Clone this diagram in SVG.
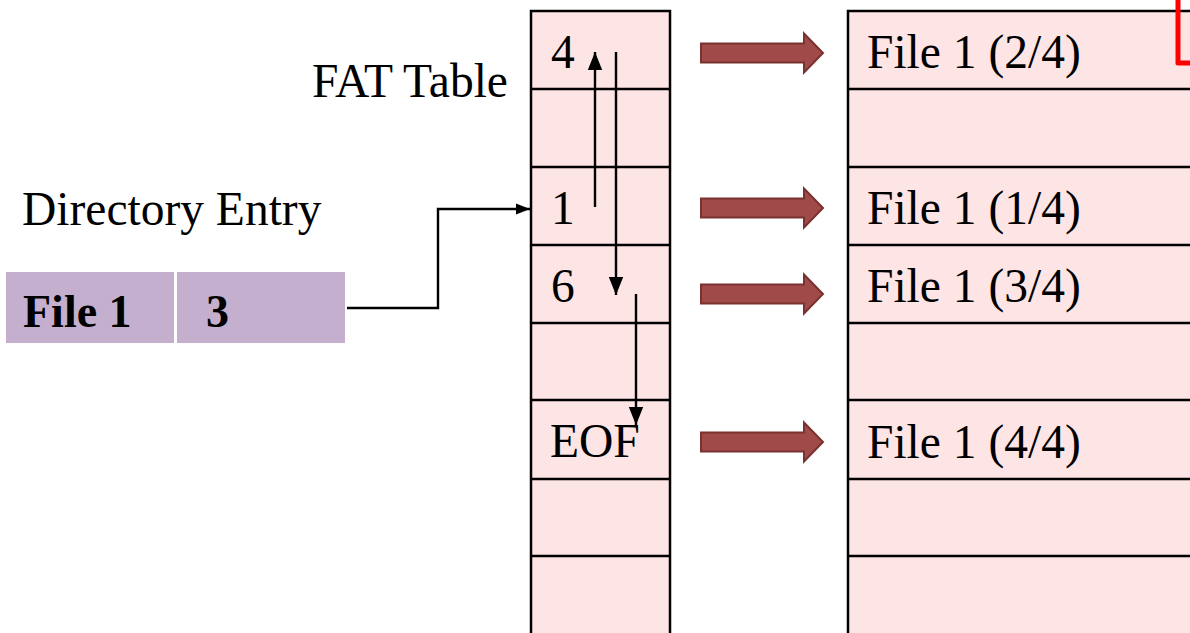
<svg xmlns="http://www.w3.org/2000/svg" width="1190" height="633" viewBox="0 0 1190 633">
<defs>
<style>
.t{font-family:"Liberation Serif","Times New Roman",serif;font-size:47.5px;fill:#000}
.b{font-weight:bold;font-size:46px}
.cell{fill:#FDE4E5;stroke:#000;stroke-width:2.5}
.ln{stroke:#000;stroke-width:2.5;fill:none}
.conn{stroke:#000;stroke-width:2.4;fill:none}
.blk{fill:#A04B49;stroke:#7A3230;stroke-width:2}
.dir{fill:#C4B0CE}
</style>
<marker id="ah" viewBox="0 0 10 10" refX="10" refY="5" markerWidth="14" markerHeight="14" markerUnits="userSpaceOnUse" orient="auto">
<path d="M0,1 L10,5 L0,9 Z" fill="#000"/>
</marker>
<marker id="ah2" viewBox="0 0 10 10" refX="10" refY="5" markerWidth="18" markerHeight="18" markerUnits="userSpaceOnUse" orient="auto">
<path d="M0,1 L10,5 L0,9 Z" fill="#000"/>
</marker>
<path id="blkarrow" d="M0,-9.5 H103 V-19.5 L122,0 L103,19.5 V9.5 H0 Z"/>
</defs>
<rect width="1190" height="633" fill="#fff"/>

<g id="fat-table">
<rect class="cell" x="531" y="11" width="139" height="640"/>
<line class="ln" x1="531" y1="89" x2="670" y2="89"/>
<line class="ln" x1="531" y1="167" x2="670" y2="167"/>
<line class="ln" x1="531" y1="245" x2="670" y2="245"/>
<line class="ln" x1="531" y1="323" x2="670" y2="323"/>
<line class="ln" x1="531" y1="400" x2="670" y2="400"/>
<line class="ln" x1="531" y1="479" x2="670" y2="479"/>
<line class="ln" x1="531" y1="556" x2="670" y2="556"/>
<text class="t" x="551" y="68">4</text>
<text class="t" x="551" y="224">1</text>
<text class="t" x="551" y="302">6</text>
<text class="t" x="550" y="457">EOF</text>
</g>

<g id="data-blocks">
<rect class="cell" x="848" y="11" width="360" height="640"/>
<line class="ln" x1="848" y1="89" x2="1190" y2="89"/>
<line class="ln" x1="848" y1="167" x2="1190" y2="167"/>
<line class="ln" x1="848" y1="245" x2="1190" y2="245"/>
<line class="ln" x1="848" y1="323" x2="1190" y2="323"/>
<line class="ln" x1="848" y1="400" x2="1190" y2="400"/>
<line class="ln" x1="848" y1="479" x2="1190" y2="479"/>
<line class="ln" x1="848" y1="556" x2="1190" y2="556"/>
<text class="t" x="867" y="68">File 1 (2/4)</text>
<text class="t" x="867" y="224">File 1 (1/4)</text>
<text class="t" x="867" y="302">File 1 (3/4)</text>
<text class="t" x="867" y="458">File 1 (4/4)</text>
</g>

<g id="red-mark">
<path d="M1178,0 V63 H1192" fill="none" stroke="#F00" stroke-width="5" stroke-linejoin="round"/>
</g>

<g id="fat-label">
<text class="t" x="312" y="97">FAT Table</text>
</g>

<g id="directory-label">
<text class="t" x="22" y="225">Directory Entry</text>
</g>

<g id="directory-entry">
<rect class="dir" x="6" y="272" width="168" height="71"/>
<rect class="dir" x="177" y="272" width="168" height="71"/>
<text class="t b" x="23" y="327">File 1</text>
<text class="t b" x="206" y="327">3</text>
</g>

<g id="connectors">
<path class="conn" d="M347,308 H438 V209 H530" marker-end="url(#ah)"/>
<path class="conn" d="M595,207 V52" marker-end="url(#ah2)"/>
<path class="conn" d="M616,52 V295" marker-end="url(#ah2)"/>
<path class="conn" d="M636,294 V425" marker-end="url(#ah2)"/>
<use href="#blkarrow" class="blk" x="701" y="53"/>
<use href="#blkarrow" class="blk" x="701" y="208"/>
<use href="#blkarrow" class="blk" x="701" y="294"/>
<use href="#blkarrow" class="blk" x="701" y="442"/>
</g>
</svg>
